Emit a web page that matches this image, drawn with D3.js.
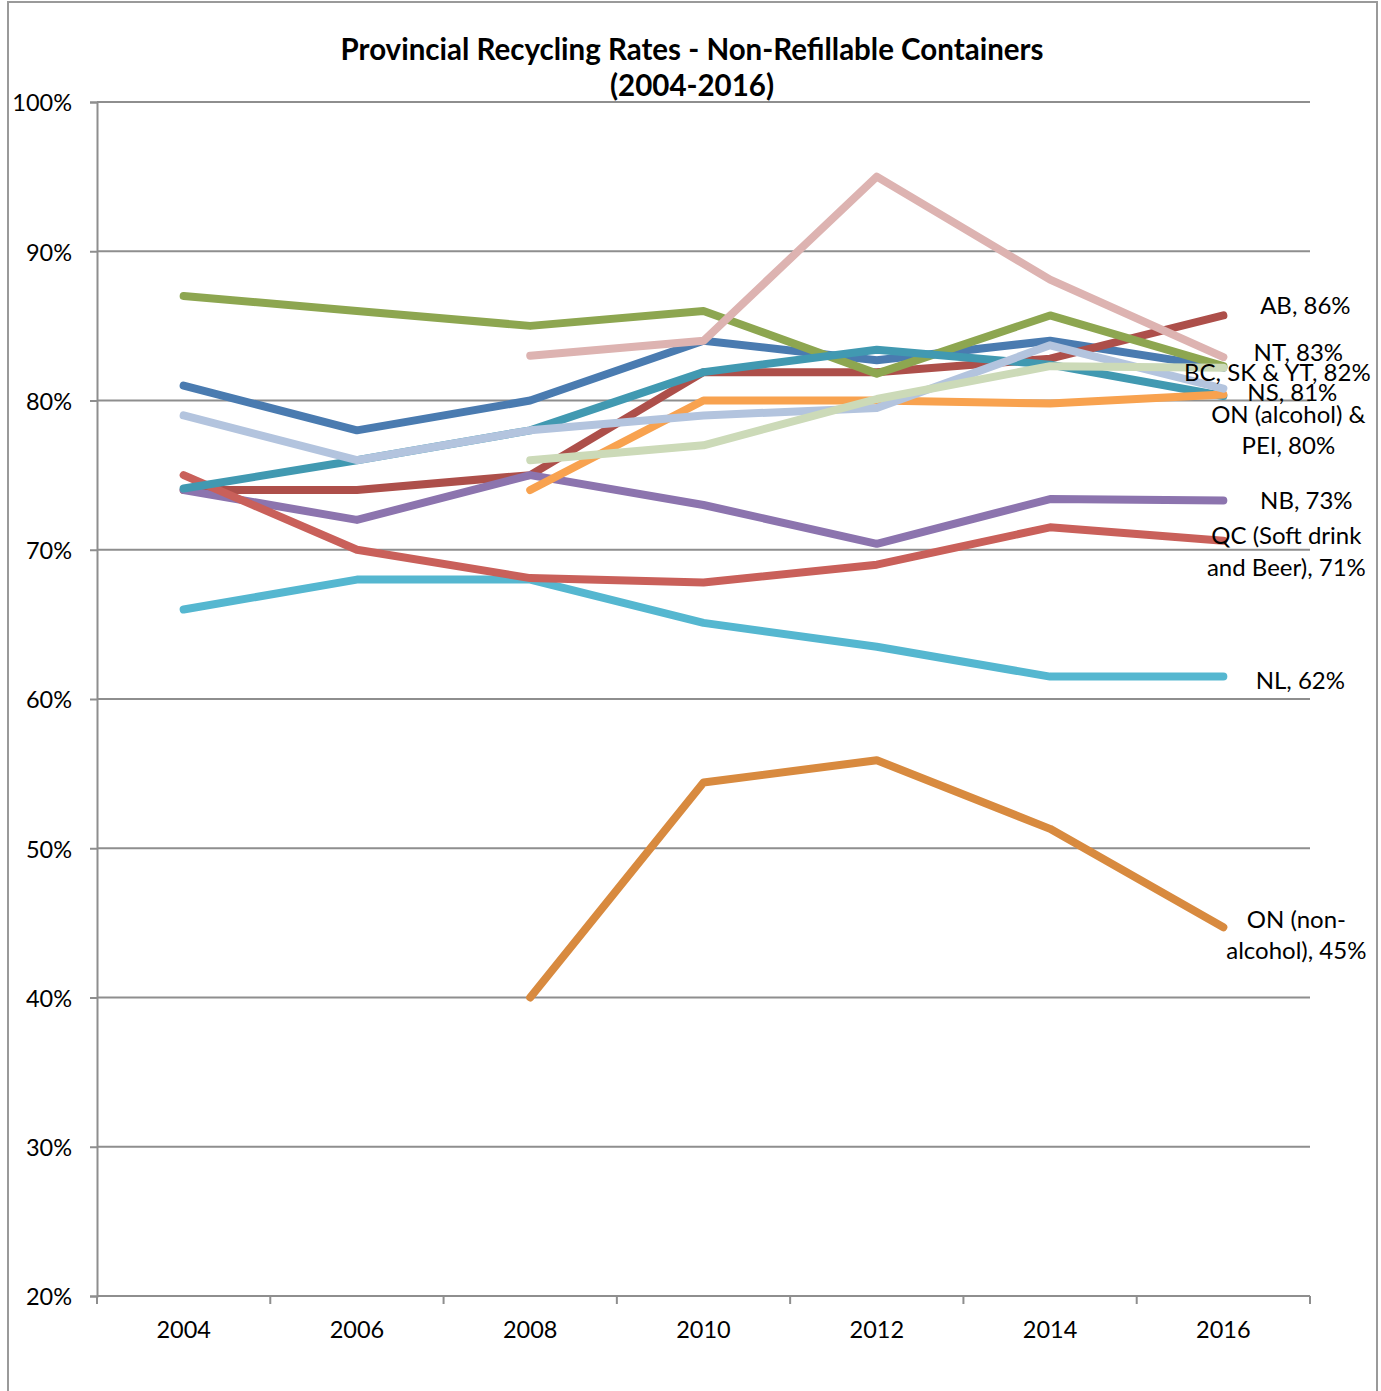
<!DOCTYPE html>
<html>
<head>
<meta charset="utf-8">
<script src="https://cdn.jsdelivr.net/npm/d3@7"></script>
<style>
  html, body { margin: 0; padding: 0; background: #fff; }
  svg { display: block; font-family: Lato, "Open Sans", sans-serif; }
</style>
</head>
<body>
<svg id="chart" width="1381" height="1391"></svg>
<script>
// Recycling rates (%) by year; null where a program reported no figure
const years = ["2004", "2006", "2008", "2010", "2012", "2014", "2016"];

const bc       = [81.0, 78.0, 80.0, 84.0, 82.7, 84.0, 82.2];
const ab       = [74.0, 74.0, 75.0, 81.9, 81.9, 82.8, 85.7];
const sk       = [87.0, 86.0, 85.0, 86.0, 81.8, 85.7, 82.3];
const nb       = [74.0, 72.0, 75.0, 73.0, 70.4, 73.4, 73.3];
const nl       = [66.0, 68.0, 68.0, 65.1, 63.5, 61.5, 61.5];
const onNonAlc = [null, null, 40.0, 54.4, 55.9, 51.3, 44.7];
const qc       = [75.0, 70.0, 68.1, 67.8, 69.0, 71.5, 70.6];
const pei      = [74.1, 76.0, 78.0, 81.9, 83.4, 82.4, 80.3];
const onAlc    = [null, null, 74.0, 80.0, 80.0, 79.8, 80.4];
const ns       = [79.0, 76.0, 78.0, 79.0, 79.5, 83.7, 80.8];
const nt       = [null, null, 83.0, 84.0, 95.0, 88.1, 82.9];
const yt       = [null, null, 76.0, 77.0, 80.1, 82.3, 82.2];

const yTicks = [20, 30, 40, 50, 60, 70, 80, 90, 100];

// Series in drawing order, with the end-of-line label text
const series = [
  { name: "BC",               values: bc,       color: "#4a7bb0", label: ["BC, SK & YT, 82%"] },
  { name: "AB",               values: ab,       color: "#ad4f4a", label: ["AB, 86%"] },
  { name: "SK",               values: sk,       color: "#8da650", label: null },
  { name: "NB",               values: nb,       color: "#8c74ae", label: ["NB, 73%"] },
  { name: "NL",               values: nl,       color: "#55b7d0", label: ["NL, 62%"] },
  { name: "ON (non-alcohol)", values: onNonAlc, color: "#d88a3f", label: ["ON (non-", "alcohol), 45%"] },
  { name: "QC",               values: qc,       color: "#c9605a", label: ["QC (Soft drink", "and Beer), 71%"] },
  { name: "PEI",              values: pei,      color: "#4199b1", label: null },
  { name: "ON (alcohol)",     values: onAlc,    color: "#f8a24f", label: ["ON (alcohol) &", "PEI, 80%"] },
  { name: "NS",               values: ns,       color: "#b3c4de", label: ["NS, 81%"] },
  { name: "NT",               values: nt,       color: "#ddb3b1", label: ["NT, 83%"] },
  { name: "YT",               values: yt,       color: "#ccdab8", label: null }
];

// Label placement relative to the last point (px): centre offset and vertical nudge
const labelPlace = {
  "AB":               { dx: 82, dy: -11 },
  "NT":               { dx: 75, dy: -6 },
  "BC":               { dx: 54, dy: 3 },
  "NS":               { dx: 69, dy: 2 },
  "ON (alcohol)":     { dx: 65, dy: 34 },
  "NB":               { dx: 83, dy: -1 },
  "QC":               { dx: 63, dy: 9 },
  "NL":               { dx: 77, dy: 2 },
  "ON (non-alcohol)": { dx: 73, dy: 6 }
};

const svg = d3.select("#chart");
const plot = { left: 97, right: 1310, top: 102, bottom: 1296 };
const gridColor = "#8e8e8e";

// Outer chart frame
svg.append("rect")
  .attr("x", 8).attr("y", 2)
  .attr("width", 1369).attr("height", 1400)
  .attr("fill", "#fff").attr("stroke", "#9a9a9a").attr("stroke-width", 2);

const xBand = d3.scaleBand().domain(years).range([plot.left, plot.right]).paddingInner(0).paddingOuter(0);
const x = d => xBand(d) + xBand.bandwidth() / 2;
const y = d3.scaleLinear().domain([20, 100]).range([plot.bottom, plot.top]);

// Title
const title = svg.append("text")
  .attr("text-anchor", "middle")
  .attr("font-weight", "bold")
  .attr("font-size", 29.5)
  .attr("fill", "#000");
title.append("tspan").attr("x", 692).attr("y", 60).text("Provincial Recycling Rates - Non-Refillable Containers");
title.append("tspan").attr("x", 692).attr("y", 96).text("(2004-2016)");

// Horizontal gridlines
svg.append("g")
  .selectAll("line")
  .data(yTicks.filter(t => t > 20))
  .join("line")
  .attr("x1", plot.left).attr("x2", plot.right)
  .attr("y1", d => y(d)).attr("y2", d => y(d))
  .attr("stroke", gridColor).attr("stroke-width", 2);

// Value axis
const yAxis = svg.append("g")
  .attr("transform", `translate(${plot.left},0)`)
  .call(d3.axisLeft(y).tickValues(yTicks).tickSize(7).tickPadding(18).tickFormat(d => d + "%"));
yAxis.select(".domain").attr("stroke", gridColor).attr("stroke-width", 2);
yAxis.selectAll(".tick line").attr("stroke", gridColor).attr("stroke-width", 2);
yAxis.selectAll(".tick text")
  .attr("font-family", "Lato, sans-serif").attr("font-size", 23.5).attr("fill", "#000")
  .attr("dy", "0.38em");

// Category axis: labels centred in each band, ticks on band edges
const xAxis = svg.append("g")
  .attr("transform", `translate(0,${plot.bottom})`)
  .call(d3.axisBottom(xBand).tickSize(0).tickPadding(25));
xAxis.select(".domain").remove();
xAxis.selectAll(".tick text")
  .attr("font-family", "Lato, sans-serif").attr("font-size", 23.5).attr("fill", "#000");
svg.append("line")
  .attr("x1", plot.left).attr("x2", plot.right)
  .attr("y1", plot.bottom).attr("y2", plot.bottom)
  .attr("stroke", gridColor).attr("stroke-width", 2);
svg.append("g")
  .selectAll("line")
  .data(years.map(d => xBand(d)).concat([plot.right]))
  .join("line")
  .attr("x1", d => d).attr("x2", d => d)
  .attr("y1", plot.bottom).attr("y2", plot.bottom + 8)
  .attr("stroke", gridColor).attr("stroke-width", 2);

// Lines
const line = d3.line()
  .defined(d => d.v !== null)
  .x(d => x(d.year))
  .y(d => y(d.v));

svg.append("g")
  .selectAll("path")
  .data(series)
  .join("path")
  .attr("d", s => line(s.values.map((v, i) => ({ year: years[i], v }))))
  .attr("fill", "none")
  .attr("stroke", s => s.color)
  .attr("stroke-width", 8)
  .attr("stroke-linecap", "round")
  .attr("stroke-linejoin", "round");

// End-of-line data labels
const lastYear = years[years.length - 1];
const labels = svg.append("g")
  .attr("font-family", "Lato, sans-serif")
  .attr("font-size", 24)
  .attr("fill", "#000")
  .attr("text-anchor", "middle");

series.filter(s => s.label).forEach(s => {
  const last = s.values[s.values.length - 1];
  const place = labelPlace[s.name];
  const cx = x(lastYear) + place.dx;
  const cy = y(last) + place.dy;
  const t = labels.append("text").attr("dominant-baseline", "central");
  s.label.forEach((txt, i) => {
    t.append("tspan")
      .attr("x", cx)
      .attr("y", cy + (i - (s.label.length - 1) / 2) * 31.5)
      .text(txt);
  });
});
</script>
</body>
</html>
